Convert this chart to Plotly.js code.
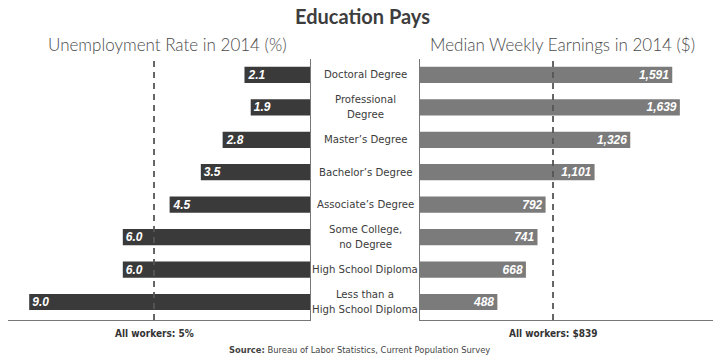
<!DOCTYPE html>
<html>
<head>
<meta charset="utf-8">
<script src="https://cdn.plot.ly/plotly-3.0.1.min.js"></script>
<style>html,body{margin:0;padding:0;background:#fff;}#chart{width:725px;height:364px;}</style>
</head>
<body>
<div id="chart"></div>
<script>
const categories = ["Doctoral Degree", "Professional<br>Degree", "Master’s Degree", "Bachelor’s Degree", "Associate’s Degree", "Some College,<br>no Degree", "High School Diploma", "Less than a<br>High School Diploma"];
const unemployment = [2.1, 1.9, 2.8, 3.5, 4.5, 6.0, 6.0, 9.0];
const earnings = [1591, 1639, 1326, 1101, 792, 741, 668, 488];
const allWorkersUnemployment = 5;
const allWorkersEarnings = 839;
const leftTitle = "Unemployment Rate in 2014 (%)";
const rightTitle = "Median Weekly Earnings in 2014 ($)";
const chartTitle = "Education Pays";
const sourceText = "<b>Source:</b> Bureau of Labor Statistics, Current Population Survey";

const W = 725, H = 364;
const py = p => 1 - p / H;
const px = p => p / W;
const narrow = "'DejaVu Sans Condensed', 'Liberation Sans Narrow', Arial, sans-serif";
const valueFont = {family: "'Liberation Sans', Arial, sans-serif", size: 12, color: "#ffffff", weight: 700, style: "italic"};

const traces = [
  {
    type: "bar", orientation: "h", x: unemployment, y: categories, xaxis: "x", yaxis: "y",
    marker: {color: "#3a3a3a"},
    text: unemployment.map(v => v.toFixed(1)), textposition: "inside", insidetextanchor: "end",
    textfont: valueFont, constraintext: "none", hoverinfo: "skip", cliponaxis: false
  },
  {
    type: "bar", orientation: "h", x: earnings, y: categories, xaxis: "x2", yaxis: "y2",
    marker: {color: "#7b7b7b"},
    text: earnings.map(v => v.toLocaleString("en-US")), textposition: "inside", insidetextanchor: "end",
    textfont: valueFont, constraintext: "none", hoverinfo: "skip", cliponaxis: false
  }
];

const yTop = 59, yBot = 320;
const yRange = [7.555, -0.49];

const annotations = categories.map(c => ({
  xref: "paper", yref: "y", x: px(365), y: c, text: c, showarrow: false,
  xanchor: "center", yanchor: "middle", align: "center",
  font: {family: narrow, size: 11.3, color: "#3c3c3c"}
}));
annotations.push(
  {xref: "paper", yref: "paper", x: px(167), y: py(44), text: leftTitle, showarrow: false, xanchor: "center", yanchor: "middle", font: {family: "Lato, 'Open Sans', sans-serif", size: 17, color: "#4a4a4a", weight: 300}},
  {xref: "paper", yref: "paper", x: px(562), y: py(44), text: rightTitle, showarrow: false, xanchor: "center", yanchor: "middle", font: {family: "Lato, 'Open Sans', sans-serif", size: 17, color: "#4a4a4a", weight: 300}},
  {xref: "x", yref: "paper", x: allWorkersUnemployment, y: py(333), text: "<b>All workers: " + allWorkersUnemployment + "%</b>", showarrow: false, xanchor: "center", yanchor: "middle", font: {family: narrow, size: 10, color: "#333"}},
  {xref: "x2", yref: "paper", x: allWorkersEarnings, y: py(333), text: "<b>All workers: $" + allWorkersEarnings + "</b>", showarrow: false, xanchor: "center", yanchor: "middle", font: {family: narrow, size: 10, color: "#333"}},
  {xref: "paper", yref: "paper", x: px(359), y: py(349), text: sourceText, showarrow: false, xanchor: "center", yanchor: "middle", font: {family: narrow, size: 9.3, color: "#444"}}
);

const shapes = [
  {type: "line", xref: "x", yref: "paper", x0: allWorkersUnemployment, x1: allWorkersUnemployment, y0: py(yBot), y1: py(yTop), line: {color: "#555", width: 1.8, dash: "6px,5px"}},
  {type: "line", xref: "x2", yref: "paper", x0: allWorkersEarnings, x1: allWorkersEarnings, y0: py(yBot), y1: py(yTop), line: {color: "#555", width: 1.8, dash: "6px,5px"}}
];

const layout = {
  width: W, height: H,
  margin: {l: 0, r: 0, t: 0, b: 0},
  paper_bgcolor: "#fff", plot_bgcolor: "rgba(0,0,0,0)",
  showlegend: false,
  bargap: 0.5,
  title: {text: "<b>" + chartTitle + "</b>", x: 0.5, xanchor: "center", y: 1 - 17 / H, yref: "container", yanchor: "middle", font: {family: "Lato, 'Open Sans', sans-serif", size: 20, color: "#3d3d3d"}},
  xaxis: {domain: [px(8), px(310)], range: [9.68, 0], showgrid: false, zeroline: false, showticklabels: false, ticks: "", showline: true, linecolor: "#777", linewidth: 1, anchor: "y", fixedrange: true},
  xaxis2: {domain: [px(420), px(713)], range: [0, 1848], showgrid: false, zeroline: false, showticklabels: false, ticks: "", showline: true, linecolor: "#777", linewidth: 1, anchor: "y2", fixedrange: true},
  yaxis: {domain: [py(yBot), py(yTop)], type: "category", categoryarray: categories, range: yRange, anchor: "x", side: "right", showgrid: false, zeroline: false, showticklabels: false, ticks: "", showline: true, linecolor: "#777", linewidth: 1, fixedrange: true},
  yaxis2: {domain: [py(yBot), py(yTop)], type: "category", categoryarray: categories, range: yRange, anchor: "x2", side: "left", showgrid: false, zeroline: false, showticklabels: false, ticks: "", showline: true, linecolor: "#777", linewidth: 1, fixedrange: true},
  annotations: annotations,
  shapes: shapes
};

Plotly.newPlot("chart", traces, layout, {displayModeBar: false, staticPlot: true});
</script>
</body>
</html>
